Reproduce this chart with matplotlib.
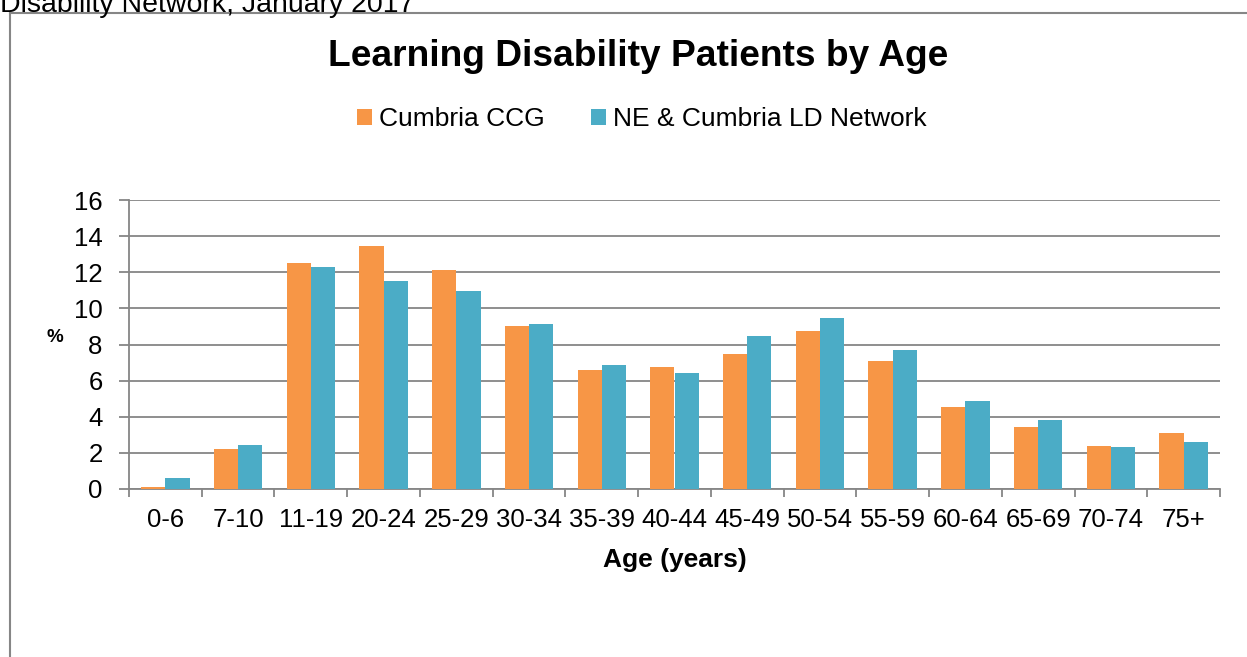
import numpy as np
import matplotlib
matplotlib.use("Agg")
from matplotlib import pyplot as plt
from matplotlib.lines import Line2D

# 数据
age_groups = ['0-6', '7-10', '11-19', '20-24', '25-29', '30-34', '35-39', '40-44',
              '45-49', '50-54', '55-59', '60-64', '65-69', '70-74', '75+']
cumbria_ccg = [0.13, 2.23, 12.53, 13.47, 12.11, 9.0, 6.61, 6.74,
               7.47, 8.75, 7.10, 4.56, 3.45, 2.38, 3.10]
ne_network = [0.61, 2.45, 12.31, 11.53, 10.96, 9.13, 6.88, 6.44,
              8.49, 9.45, 7.71, 4.89, 3.82, 2.34, 2.58]
series_names = ['Cumbria CCG', 'NE & Cumbria LD Network']

orange = '#F79646'
blue = '#4BACC6'
grid_c = '#868686'

plt.rcParams['font.family'] = ['Liberation Sans', 'DejaVu Sans']

W, H = 1247, 657
fig = plt.figure(figsize=(W / 100, H / 100), dpi=100)

# 外框 (only left and top visible)
fig.add_artist(Line2D([10 / W, 10 / W], [0, 1 - 13 / H], transform=fig.transFigure,
                      color=grid_c, lw=1.5))
fig.add_artist(Line2D([10 / W, 1], [1 - 13 / H, 1 - 13 / H], transform=fig.transFigure,
                      color=grid_c, lw=1.5))

# header text, cut off by the top edge as in the original page
fig.text(0, 1 - 11.5 / H, 'Disability Network, January 2017', fontsize=20.5, color='black',
         ha='left', va='baseline')

ax = fig.add_axes([129 / W, (H - 489) / H, (1220 - 129) / W, (489 - 200) / H])

x = np.arange(len(age_groups))
w = 1 / 3
ax.bar(x - w / 2, cumbria_ccg, w, color=orange, label=series_names[0], zorder=3)
ax.bar(x + w / 2, ne_network, w, color=blue, label=series_names[1], zorder=3)

ax.set_xlim(-0.5, len(age_groups) - 0.5)
ax.set_ylim(0, 16)
ax.set_yticks(np.arange(0, 17, 2))
ax.yaxis.grid(True, color=grid_c, lw=1.3, zorder=0)
ax.set_axisbelow(True)

ax.set_xticks(x)
ax.set_xticklabels(age_groups)
ax.set_xticks(np.arange(-0.5, len(age_groups), 1), minor=True)
ax.tick_params(axis='x', which='major', length=0, pad=14, labelsize=18.5)
ax.tick_params(axis='x', which='minor', length=6, color=grid_c, width=1.3)
ax.tick_params(axis='y', length=7, color=grid_c, width=1.3, pad=12, labelsize=18.5)

for s in ['top', 'right']:
    ax.spines[s].set_visible(False)
for s in ['left', 'bottom']:
    ax.spines[s].set_color(grid_c)
    ax.spines[s].set_linewidth(1.3)

ax.set_xlabel('Age (years)', fontsize=19, fontweight='bold', labelpad=11)
fig.text(55 / W, 1 - 337 / H, '%', fontsize=13.5, fontweight='bold', ha='center', va='center')

fig.text(638 / W, 1 - 57 / H, 'Learning Disability Patients by Age', fontsize=26.7,
         fontweight='bold', ha='center', va='center')

ax.legend(loc='center', bbox_to_anchor=(642 / W, 1 - 119 / H), bbox_transform=fig.transFigure,
          ncol=2, frameon=False, fontsize=19, handlelength=0.57, handleheight=0.57,
          handletextpad=0.27, columnspacing=1.75, borderpad=0)

fig.savefig('out.png', dpi=100)
